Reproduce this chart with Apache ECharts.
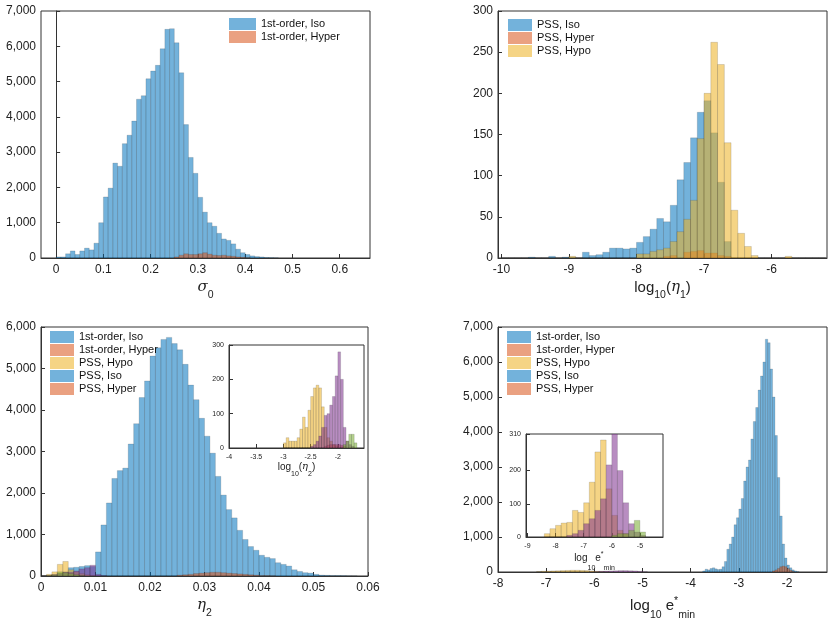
<!DOCTYPE html>
<html>
<head>
<meta charset="UTF-8">
<script src="https://cdn.jsdelivr.net/npm/echarts@6/dist/echarts.min.js"></script>
<style>body{margin:0;background:#fff}#main{width:833px;height:626px}</style>
</head>
<body>
<div id="main"></div>
<script>
// ---- data: bin start, bin width, counts ----
// panel 1: sigma_0
var p1Start = 0.0, p1W = 0.01;
var p1Iso = [30,30,120,200,100,200,280,230,420,1000,1730,1980,2690,2600,3240,3480,3880,4500,4600,5080,5300,5460,5930,6480,6500,6100,5250,3780,2850,2400,1720,1300,1000,900,700,540,500,400,250,150,100,60,40,30,15,10,5];
var p1HyperStart = 0.25;
var p1Hyper = [30,80,120,100,100,120,150,110,80,70,80,60,50,30,20,10];

// panel 2: log10(eta_1), bins of 0.1 starting at -10
var p2Start = -10, p2W = 0.1;
var p2Iso = [0,0,0,0,1,0,0,2,0,1,1,0,7,3,4,7,12,12,11,12,19,26,35,48,44,64,95,116,146,177,191,152,92,20,0,0,0,0,0,0,0,0,0,0,0,0,0,0];
var p2Hyper = [0,0,0,0,0,0,0,0,0,0,0,0,0,0,0,0,0,0,0,0,0,0,0,0,2,3,0,7,8,9,6,6,3,2,0,0,0,0,0,0,0,0,0,0,0,0,0,0];
var p2Hypo = [0,0,0,0,0,0,0,0,0,0,2,0,0,0,0,0,0,0,0,0,5,5,8,10,12,20,32,47,70,145,200,262,235,140,58,30,14,3,0,0,0,0,2,0,0,0,0,0];

// panel 3: eta_2, bins of 0.001 starting at 0
var p3Start = 0, p3W = 0.001;
var p3Iso = [0,20,40,60,100,200,210,230,250,230,580,1230,1760,2350,2540,2600,3180,3670,4300,4700,5300,5500,5700,5750,5600,5450,5100,4600,4250,3800,3370,2960,2400,1950,1600,1400,1100,880,710,620,500,450,420,320,280,240,150,110,80,70,40,20,15,10,10,8,4,2];
var p3Hyper = [0,0,0,0,0,0,0,0,0,0,0,0,0,0,0,0,0,0,0,0,0,0,0,0,0,20,30,40,60,70,80,90,90,80,70,60,50,40,30,20,10,10,5];
var p3Hypo = [0,40,100,280,350,150,100,60,30,10];
var p3PIso = [0,0,30,60,90,90,120,170,200,260,40,10];
var p3PHyper = [0,0,20,100,80,60,30,10];

// inset 3: log10(eta_2), bins of 0.05 starting at -3.0
var i3Start = -3.0, i3W = 0.05;
var i3Hypo = [15,30,20,20,20,30,55,90,60,110,150,175,183,175,120,60,30,20,10,5];
var i3PIso = [0,0,0,0,0,0,0,0,0,0,5,10,20,35,60,95,100,125,150,210,280,200,60,20,10,5];
var i3PHyper = [0,0,0,0,0,0,0,0,0,0,0,0,0,0,0,0,0,0,0,0,0,0,10,20,40,40,15];
var i3Hyper = [0,0,0,0,0,0,0,0,0,0,0,0,0,0,0,5,8,10,10,10,10,8,5];

// panel 4: log10 e*_min
var p4Start = -3.75, p4W = 0.05;
var p4Iso = [30,80,60,100,120,90,70,80,150,300,650,800,1000,1350,1550,1800,2100,2600,3000,3200,3800,4300,4700,5200,5600,6000,6650,6550,5800,5000,3900,2700,1600,800,400,200,120,60,30,10];
var p4HyperStart = -2.3;
var p4Hyper = [30,60,100,150,170,150,100,50,15];
var p4LowStart = -7.2, p4LowW = 0.1;
var p4Hypo = [10,20,25,30,35,40,45,50,50,45,40,30,20,10,5];
var p4PIso = [0,0,0,0,0,0,0,0,0,0,0,5,10,20,25,30,35,40,40,35,30,20,10];

// inset 4: bins of 0.2 starting at -8.4
var i4Start = -8.4, i4W = 0.2;
var i4Hypo = [10,25,35,42,44,80,74,103,165,256,292,145,65,20,10,0,0,0];
var i4PIso = [0,0,0,0,5,10,20,40,55,80,115,217,330,200,103,40,15,5];
var i4PHyper = [0,0,0,0,0,0,0,0,0,0,0,0,5,10,10,20,50,15];

// tick labels
var p1Ticks = [0,0.1,0.2,0.3,0.4,0.5,0.6];
var p2Ticks = [-10,-9,-8,-7,-6];
var p3Ticks = [0,0.01,0.02,0.03,0.04,0.05,0.06];
var i3Ticks = [-4,-3.5,-3,-2.5,-2];
var p4Ticks = [-8,-7,-6,-5,-4,-3,-2];
var i4Ticks = [-9,-8,-7,-6,-5];

var C = {
  iso: 'rgba(0,114,189,0.55)',
  hyper: 'rgba(217,83,25,0.55)',
  hypo: 'rgba(237,177,32,0.55)',
  piso: 'rgba(126,47,142,0.55)',
  phyper: 'rgba(119,172,48,0.55)'
};

function hist(name, idx, start, w, counts, color) {
  var data = counts.map(function (c, i) { return [start + i * w, c, w]; });
  return {
    type: 'custom', name: name, xAxisIndex: idx, yAxisIndex: idx, clip: true,
    itemStyle: { color: color },
    data: data,
    renderItem: function (params, api) {
      var a = api.coord([api.value(0), api.value(1)]);
      var b = api.coord([api.value(0) + api.value(2), 0]);
      return {
        type: 'rect',
        shape: { x: a[0], y: a[1], width: b[0] - a[0], height: b[1] - a[1] },
        style: { fill: color, stroke: 'rgba(40,40,40,0.25)', lineWidth: 0.6 }
      };
    }
  };
}

var font = 'Liberation Sans, Arial, sans-serif';
function xAx(idx, min, max, ticks, name, gap, fs) {
  return {
    gridIndex: idx, type: 'value', min: min, max: max,
    name: name, nameLocation: 'middle', nameGap: gap,
    nameTextStyle: { fontFamily: font, fontSize: fs + 3, color: '#222', rich: rich(fs + 3) },
    axisLine: { lineStyle: { color: '#333' } },
    axisTick: { inside: true, length: 4, customValues: ticks, lineStyle: { color: '#333' } },
    axisLabel: { customValues: ticks, fontFamily: font, fontSize: fs, color: '#222', margin: 6 },
    splitLine: { show: false }
  };
}
function yAx(idx, max, interval, fs) {
  return {
    gridIndex: idx, type: 'value', min: 0, max: max, interval: interval,
    axisLine: { show: true, lineStyle: { color: '#333' } },
    axisTick: { show: true, inside: true, length: 4, lineStyle: { color: '#333' } },
    axisLabel: { fontFamily: font, fontSize: fs, color: '#222', margin: 5, showMaxLabel: true },
    splitLine: { show: false }
  };
}
function rich(fs) {
  return {
    s: { fontSize: fs * 0.7, verticalAlign: 'bottom', padding: [0, 0, -6, 0], fontFamily: font, color: '#222' },
    u: { fontSize: fs * 0.7, padding: [0, 0, 8, 0], fontFamily: font, color: '#222' },
    i: { fontSize: fs, fontStyle: 'italic', fontFamily: 'DejaVu Serif', color: '#222' }
  };
}
function grid(l, t, w, h) {
  return { left: l, top: t, width: w, height: h, show: true, borderColor: '#333', borderWidth: 1, backgroundColor: '#fff' };
}
function leg(names, l, t, fs, iw, ih) {
  return {
    data: names, left: l, top: t, orient: 'vertical', itemGap: 1, itemWidth: iw, itemHeight: ih,
    icon: 'rect', selectedMode: false, padding: 0,
    textStyle: { fontFamily: font, fontSize: fs, color: '#111' }
  };
}

var option = {
  animation: false,
  grid: [
    grid(41, 11, 329, 247),
    grid(498, 11, 329, 247),
    grid(41, 327, 327, 249),
    grid(498, 327, 329, 245),
    grid(229, 345, 135, 103),
    grid(526, 434, 137, 103)
  ],
  xAxis: [
    xAx(0, -0.032, 0.664, p1Ticks, '{i|σ}{s|0}', 22, 12),
    xAx(1, -10.05, -5.18, p2Ticks, 'log{s|10}({i|η}{s|1})', 22, 12),
    xAx(2, 0, 0.06, p3Ticks, '{i|η}{s|2}', 22, 12),
    xAx(3, -8, -1.17, p4Ticks, 'log{s|10} e{u|*}{s|min}', 24, 12),
    xAx(4, -4, -1.52, i3Ticks, 'log{s|10}({i|η}{s|2})', 13, 7),
    xAx(5, -9.05, -4.18, i4Ticks, 'log{s|10}e{u|*}{s|min}', 14, 7)
  ],
  yAxis: [
    yAx(0, 7000, 1000, 12),
    yAx(1, 300, 50, 12),
    yAx(2, 6000, 1000, 12),
    yAx(3, 7000, 1000, 12),
    yAx(4, 300, 100, 7),
    yAx(5, 310, 100, 7)
  ],
  legend: [
    leg(['1st-order, Iso', '1st-order, Hyper'], 229, 18, 11, 27, 12),
    leg(['PSS, Iso', 'PSS, Hyper', 'PSS, Hypo'], 508, 19, 11, 24, 12),
    leg(['1st-order, Iso', '1st-order, Hyper', 'PSS, Hypo', 'PSS, Iso', 'PSS, Hyper'], 50, 331, 11, 24, 12),
    leg(['1st-order, Iso', '1st-order, Hyper', 'PSS, Hypo', 'PSS, Iso', 'PSS, Hyper'], 507, 331, 11, 24, 12)
  ],
  series: [
    hist('1st-order, Iso', 0, p1Start, p1W, p1Iso, C.iso),
    hist('1st-order, Hyper', 0, p1HyperStart, p1W, p1Hyper, C.hyper),

    hist('PSS, Iso', 1, p2Start, p2W, p2Iso, C.iso),
    hist('PSS, Hyper', 1, p2Start, p2W, p2Hyper, C.hyper),
    hist('PSS, Hypo', 1, p2Start, p2W, p2Hypo, C.hypo),

    hist('1st-order, Iso', 2, p3Start, p3W, p3Iso, C.iso),
    hist('1st-order, Hyper', 2, p3Start, p3W, p3Hyper, C.hyper),
    hist('PSS, Hypo', 2, p3Start, p3W, p3Hypo, C.hypo),
    hist('PSS, Iso', 2, p3Start, p3W, p3PIso, C.piso),
    hist('PSS, Hyper', 2, p3Start, p3W, p3PHyper, C.phyper),

    hist('1st-order, Iso', 3, p4Start, p4W, p4Iso, C.iso),
    hist('1st-order, Hyper', 3, p4HyperStart, p4W, p4Hyper, C.hyper),
    hist('PSS, Hypo', 3, p4LowStart, p4LowW, p4Hypo, C.hypo),
    hist('PSS, Iso', 3, p4LowStart, p4LowW, p4PIso, C.piso),

    hist('PSS, Hypo', 4, i3Start, i3W, i3Hypo, C.hypo),
    hist('1st-order, Hyper', 4, i3Start, i3W, i3Hyper, C.hyper),
    hist('PSS, Iso', 4, i3Start, i3W, i3PIso, C.piso),
    hist('PSS, Hyper', 4, i3Start, i3W, i3PHyper, C.phyper),

    hist('PSS, Hypo', 5, i4Start, i4W, i4Hypo, C.hypo),
    hist('PSS, Iso', 5, i4Start, i4W, i4PIso, C.piso),
    hist('PSS, Hyper', 5, i4Start, i4W, i4PHyper, C.phyper)
  ]
};

var myChart = echarts.init(document.getElementById('main'));
myChart.setOption(option);
</script>
</body>
</html>
